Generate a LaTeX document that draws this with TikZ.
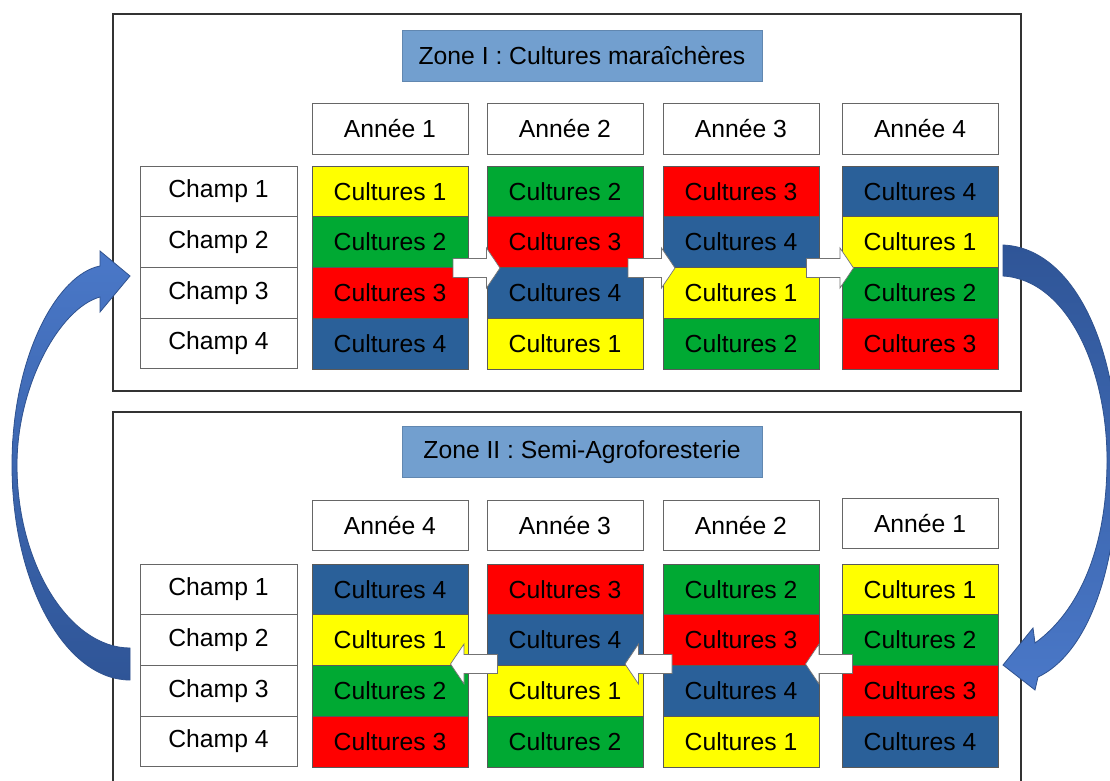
\documentclass[tikz,border=0pt]{standalone}
\usepackage{fontspec}
\setmainfont{Liberation Sans}
\definecolor{cul1}{HTML}{FFFF00}
\definecolor{cul2}{HTML}{00A933}
\definecolor{cul3}{HTML}{FF0000}
\definecolor{cul4}{HTML}{2A6099}
\definecolor{tblue}{HTML}{729FCF}
\definecolor{lblue}{HTML}{4A78C8}
\definecolor{dblue}{HTML}{2F5597}
\definecolor{bedge}{HTML}{2F528F}
\begin{document}
\begin{tikzpicture}[x=1pt,y=-1pt,
  every node/.style={font=\fontsize{24.7}{29}\selectfont, inner sep=0pt},
  zonebox/.style={draw=black!80, line width=1.3pt},
  titlebox/.style={draw=tblue!85!black, line width=0.6pt, fill=tblue, minimum width=360, minimum height=51},
  cell/.style={draw=black!65, line width=0.8pt, minimum width=156, minimum height=50.75},
  hbox/.style={draw=black!60, line width=1pt, fill=white, minimum width=157, minimum height=50.75},
  yearbox/.style={draw=black!60, line width=1pt, fill=white, minimum width=156, minimum height=50},
  sarrow/.style={draw=black!55, line width=0.7pt, fill=white, line join=miter},
  bigarrow/.style={draw=bedge, line width=0.8pt},
  rarr/.pic={\path[sarrow] (-23.5,-9.5) -- (10,-9.5) -- (10,-20) -- (23.5,0) -- (10,20) -- (10,9.5) -- (-23.5,9.5) -- cycle;},
  larr/.pic={\path[sarrow] (23.5,-9.5) -- (-10,-9.5) -- (-10,-20) -- (-23.5,0) -- (-10,20) -- (-10,9.5) -- (23.5,9.5) -- cycle;}
]
\useasboundingbox (0,0) rectangle (1110,781);
\clip (0,0) rectangle (1110,781);
\fill[white] (0,0) rectangle (1110,781);

% zones
\draw[zonebox] (113,14) rectangle (1021,391);
\draw[zonebox] (113,412) rectangle (1021,800);

\node[titlebox] (t1) at (582,55.5) {Zone I : Cultures maraîchères};
\node[titlebox] (t2) at (582,452) {Zone II : Semi-Agroforesterie};

% upper zone
\foreach \cx [count=\c] in {390,565,741,920} {
  \node[yearbox] (uy\c) at (\cx,129) {Année \c};
  \foreach \ry [count=\r] in {191.4,242.1,292.9,343.6} {
    \pgfmathtruncatemacro\k{mod(\r-1+\c-1,4)+1}
    \node[cell, fill=cul\k] (u\c\r) at (\cx,\ry) {Cultures \k};
  }
}
\foreach \ry [count=\r] in {191.4,242.1,292.9,343.6} {
  \node[hbox] (uch\r) at (218.5,\ry) {Champ \r};
}

% lower zone
\foreach \cx/\yy [count=\c] in {390/525.5,565/525.5,741/525.5,920/523.5} {
  \pgfmathtruncatemacro\yr{5-\c}
  \node[yearbox] (ly\c) at (\cx,\yy) {Année \yr};
  \foreach \ry [count=\r] in {589.4,640.1,690.9,741.6} {
    \pgfmathtruncatemacro\k{mod(\r-1+4-\c,4)+1}
    \node[cell, fill=cul\k] (l\c\r) at (\cx,\ry) {Cultures \k};
  }
}
\foreach \ry [count=\r] in {589.4,640.1,690.9,741.6} {
  \node[hbox] (lch\r) at (218.5,\ry) {Champ \r};
}

% small arrows
\pic at (476.5,268) {rarr};
\pic at (651.5,268) {rarr};
\pic at (830,268) {rarr};
\pic at (829,664) {larr};
\pic at (648.5,664) {larr};
\pic at (474,664) {larr};

% big curved arrows
\shade[bigarrow, top color=lblue, bottom color=dblue]
  (130,680) .. controls (66,680) and (12,585) .. (12,465)
  .. controls (12,355) and (58,274) .. (100,266)
  -- (100,251) -- (130,276) -- (100,312) -- (100,297)
  .. controls (60,308) and (17,385) .. (17,465)
  .. controls (17,565) and (70,648) .. (130,648) -- cycle;

\shade[bigarrow, top color=dblue, bottom color=lblue]
  (1003,245) .. controls (1075,248) and (1118,350) .. (1118,460)
  .. controls (1118,575) and (1085,655) .. (1038,677)
  -- (1035,690) -- (1003,665) -- (1033,628) -- (1035,643)
  .. controls (1078,612) and (1107,550) .. (1107,460)
  .. controls (1107,370) and (1068,280) .. (1003,276) -- cycle;
\end{tikzpicture}
\end{document}
